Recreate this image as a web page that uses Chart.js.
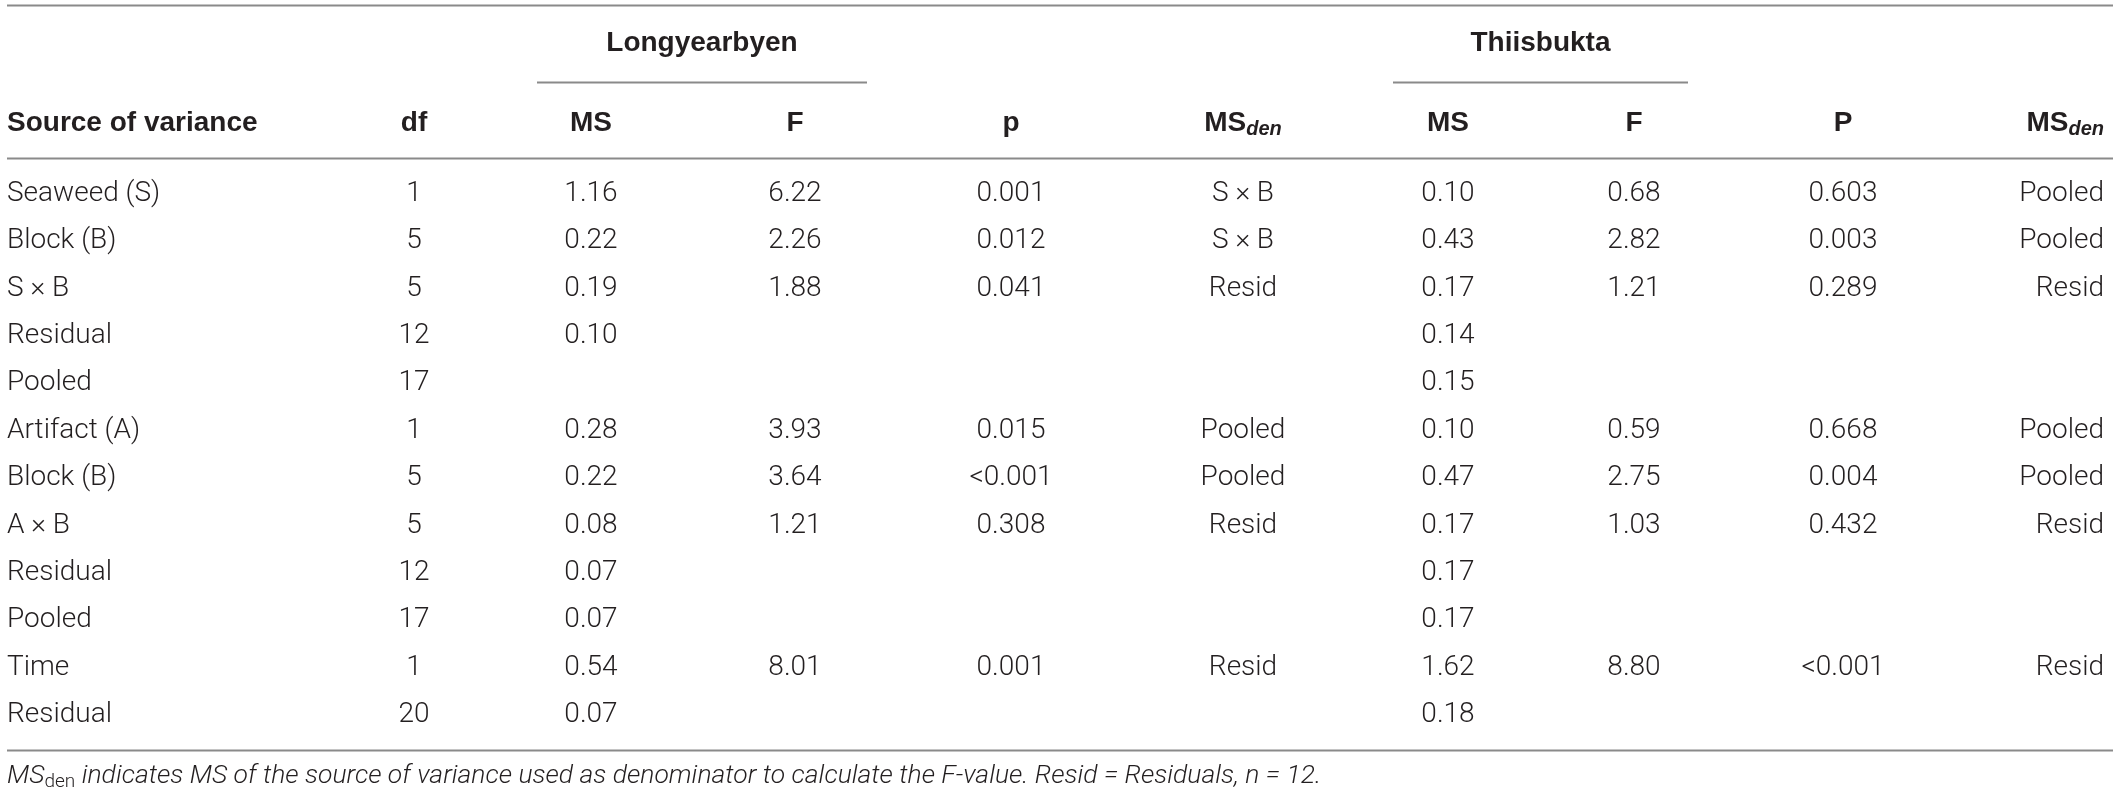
<!DOCTYPE html>
<html>
<head>
<meta charset="utf-8">
<script src="https://cdn.jsdelivr.net/npm/chart.js@4.4.0/dist/chart.umd.min.js"></script>
<style>
html, body { margin: 0; padding: 0; background: #fff; }
#wrap { width: 2118px; height: 799px; position: relative; }
</style>
</head>
<body>
<div id="wrap"><canvas id="anova"></canvas></div>
<script>
// table values, one array per column
const sources = ['Seaweed (S)', 'Block (B)', 'S \u00d7 B', 'Residual', 'Pooled', 'Artifact (A)',
                 'Block (B)', 'A \u00d7 B', 'Residual', 'Pooled', 'Time', 'Residual'];
const df = [1, 5, 5, 12, 17, 1, 5, 5, 12, 17, 1, 20];
const msLong = [1.16, 0.22, 0.19, 0.10, null, 0.28, 0.22, 0.08, 0.07, 0.07, 0.54, 0.07];
const fLong = [6.22, 2.26, 1.88, null, null, 3.93, 3.64, 1.21, null, null, 8.01, null];
const pLong = ['0.001', '0.012', '0.041', '', '', '0.015', '<0.001', '0.308', '', '', '0.001', ''];
const denLong = ['S \u00d7 B', 'S \u00d7 B', 'Resid', '', '', 'Pooled', 'Pooled', 'Resid', '', '', 'Resid', ''];
const msThii = [0.10, 0.43, 0.17, 0.14, 0.15, 0.10, 0.47, 0.17, 0.17, 0.17, 1.62, 0.18];
const fThii = [0.68, 2.82, 1.21, null, null, 0.59, 2.75, 1.03, null, null, 8.80, null];
const pThii = ['0.603', '0.003', '0.289', '', '', '0.668', '0.004', '0.432', '', '', '<0.001', ''];
const denThii = ['Pooled', 'Pooled', 'Resid', '', '', 'Pooled', 'Pooled', 'Resid', '', '', 'Resid', ''];
const sites = ['Longyearbyen', 'Thiisbukta'];
const headers = ['df', 'MS', 'F', 'p', 'MS|den', 'MS', 'F', 'P', 'MS|den'];
const footnote = ' indicates MS of the source of variance used as denominator to calculate the F-value. Resid = Residuals, n = 12.';

// layout (x in canvas px through the linear x scale, y in row units of the category scale)
const colX = [414, 591, 795, 1011, 1243, 1448, 1634, 1843, 2104];
const colAlign = ['center', 'center', 'center', 'center', 'center', 'center', 'center', 'center', 'right'];
const siteSpan = [[537, 867], [1393, 1688]];
const ruleSpan = [7, 2113];
const rowY = { top: -3.99, site: -3.19, under: -2.365, head: -1.5, headRule: -0.76, bottom: 11.74, note: 12.29 };

const ink = '#231f20';
const ruleColor = '#8a8a8a';
const bodyFamily = 'Roboto, "Liberation Sans", sans-serif';
const boldFamily = '"Liberation Sans", Arial, sans-serif';

function fmt(v) {
    if (v === null || v === '') return '';
    return typeof v === 'number' ? v.toFixed(2) : v;
}

const columns = [df.map(String), msLong.map(fmt), fLong.map(fmt), pLong, denLong,
                 msThii.map(fmt), fThii.map(fmt), pThii, denThii];

// every row keeps its point so the data index is the row index on the category axis
const datasets = columns.map((col, c) => ({
    label: headers[c],
    align: colAlign[c],
    data: col.map((t, i) => ({ x: colX[c], y: i, t: t })),
    pointRadius: 0,
    pointHoverRadius: 0
}));

// MS with subscript "den"
function drawSub(ctx, base, sub, x, y, align, baseFont, subFont, dy) {
    ctx.font = baseFont;
    const w1 = ctx.measureText(base).width;
    ctx.font = subFont;
    const w2 = ctx.measureText(sub).width;
    let left = x;
    if (align === 'center') left = x - (w1 + w2) / 2;
    if (align === 'right') left = x - (w1 + w2);
    ctx.textAlign = 'left';
    ctx.font = baseFont;
    ctx.fillText(base, left, y);
    ctx.font = subFont;
    ctx.fillText(sub, left + w1, y + dy);
    return left + w1 + w2;
}

const tablePlugin = {
    id: 'tableText',
    afterDatasetsDraw(chart) {
        const ctx = chart.ctx;
        const xs = chart.scales.x;
        const ys = chart.scales.y;
        ctx.save();
        ctx.fillStyle = ink;
        ctx.textBaseline = 'middle';

        // body cells
        chart.data.datasets.forEach((ds, d) => {
            const meta = chart.getDatasetMeta(d);
            ctx.font = '300 28px ' + bodyFamily;
            ctx.textAlign = ds.align;
            meta.data.forEach((el, i) => {
                const t = ds.data[i].t;
                if (t) ctx.fillText(t, el.x, el.y);
            });
        });

        // rules
        ctx.strokeStyle = ruleColor;
        ctx.lineWidth = 2;
        const hline = (a, b, r) => {
            const py = Math.round(ys.getPixelForValue(r)) + 0.5;
            ctx.beginPath();
            ctx.moveTo(a, py);
            ctx.lineTo(b, py);
            ctx.stroke();
        };
        [rowY.top, rowY.headRule, rowY.bottom].forEach(r => hline(ruleSpan[0], ruleSpan[1], r));
        siteSpan.forEach(s => hline(xs.getPixelForValue(s[0]), xs.getPixelForValue(s[1]), rowY.under));

        // site names
        const boldFont = 'bold 28px ' + boldFamily;
        ctx.font = boldFont;
        ctx.textAlign = 'center';
        sites.forEach((s, i) => {
            const cx = (xs.getPixelForValue(siteSpan[i][0]) + xs.getPixelForValue(siteSpan[i][1])) / 2;
            ctx.fillText(s, cx, ys.getPixelForValue(rowY.site));
        });

        // column headers
        const hy = ys.getPixelForValue(rowY.head);
        ctx.textAlign = 'left';
        ctx.fillText('Source of variance', ys.left, hy);
        headers.forEach((h, c) => {
            const hx = xs.getPixelForValue(colX[c]);
            if (h.indexOf('|') >= 0) {
                const parts = h.split('|');
                drawSub(ctx, parts[0], parts[1], hx, hy, colAlign[c], boldFont,
                        'bold italic 20px ' + boldFamily, 7);
            } else {
                ctx.font = boldFont;
                ctx.textAlign = colAlign[c];
                ctx.fillText(h, hx, hy);
            }
        });

        // footnote
        const ny = ys.getPixelForValue(rowY.note);
        const noteFont = 'italic 300 26.5px ' + bodyFamily;
        const end = drawSub(ctx, 'MS', 'den', ys.left, ny, 'left',
                            noteFont, '300 19px ' + bodyFamily, 6);
        ctx.font = noteFont;
        ctx.textAlign = 'left';
        ctx.fillText(footnote, end, ny);
        ctx.restore();
    }
};

const chart = new Chart(document.getElementById('anova'), {
    type: 'scatter',
    data: { datasets: datasets },
    options: {
        responsive: true,
        maintainAspectRatio: false,
        animation: false,
        events: [],
        layout: { padding: { left: 7, right: 14, top: 194, bottom: 84 } },
        plugins: { legend: { display: false }, tooltip: { enabled: false } },
        scales: {
            x: { type: 'linear', display: false, min: 307, max: 2104 },
            y: {
                type: 'category',
                labels: sources,
                offset: false,
                grid: { display: false },
                border: { display: false },
                ticks: {
                    autoSkip: false,
                    crossAlign: 'far',
                    padding: 0,
                    color: ink,
                    font: { family: bodyFamily, size: 28, weight: '300' }
                },
                afterFit: s => { s.width = 300; }
            }
        }
    },
    plugins: [tablePlugin]
});
</script>
</body>
</html>
